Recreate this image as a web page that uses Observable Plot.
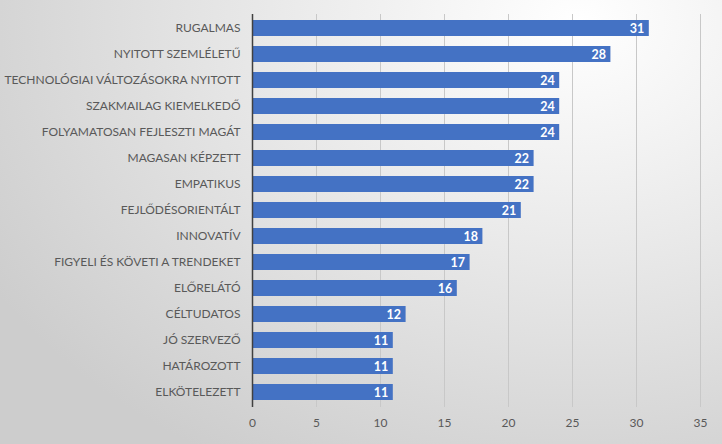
<!DOCTYPE html>
<html>
<head>
<meta charset="utf-8">
<script src="https://cdn.jsdelivr.net/npm/d3@7"></script>
<script src="https://cdn.jsdelivr.net/npm/@observablehq/plot@0.6"></script>
<style>
  html, body { margin: 0; padding: 0; }
  body {
    width: 722px; height: 444px; overflow: hidden;
    background: radial-gradient(ellipse 95% 115% at 80% 5%, #ffffff 0%, #e9e9e9 45%, #cdcdcd 100%);
  }
  #chart svg { background: transparent; display: block; }
</style>
</head>
<body>
<div id="chart"></div>
<script>
const categories = [
  "RUGALMAS",
  "NYITOTT SZEMLÉLETŰ",
  "TECHNOLÓGIAI VÁLTOZÁSOKRA NYITOTT",
  "SZAKMAILAG KIEMELKEDŐ",
  "FOLYAMATOSAN FEJLESZTI MAGÁT",
  "MAGASAN KÉPZETT",
  "EMPATIKUS",
  "FEJLŐDÉSORIENTÁLT",
  "INNOVATÍV",
  "FIGYELI ÉS KÖVETI A TRENDEKET",
  "ELŐRELÁTÓ",
  "CÉLTUDATOS",
  "JÓ SZERVEZŐ",
  "HATÁROZOTT",
  "ELKÖTELEZETT"
];
const values = [31, 28, 24, 24, 24, 22, 22, 21, 18, 17, 16, 12, 11, 11, 11];
const xTicks = [0, 5, 10, 15, 20, 25, 30, 35];

const data = categories.map((c, i) => ({ category: c, value: values[i] }));

const chart = Plot.plot({
  width: 722,
  height: 444,
  marginLeft: 252,
  marginRight: 22,
  marginTop: 14,
  marginBottom: 37,
  style: { fontFamily: "Lato, 'Open Sans', sans-serif", fontSize: "12px", color: "#595959", background: "transparent" },
  x: { domain: [0, 35], ticks: xTicks, tickSize: 0, tickPadding: 11, label: null },
  y: { domain: categories, paddingInner: 0.38, paddingOuter: 0.19, tickSize: 0, tickPadding: 12, label: null },
  marks: [
    Plot.gridX(xTicks.filter(t => t > 0), { stroke: "#c8c8c8", strokeOpacity: 1, strokeWidth: 1 }),
    Plot.barX(data, { x: "value", y: "category", fill: "#4472C4" }),
    Plot.text(data, { x: "value", y: "category", text: d => String(d.value), textAnchor: "end", dx: -5, fill: "white", fontWeight: "bold", fontSize: 12.5 }),
    Plot.ruleX([0], { stroke: "#404040", strokeWidth: 1.5 }),
    Plot.axisX({ ticks: xTicks, tickSize: 0, tickPadding: 11, fill: "#595959" }),
    Plot.axisY({ tickSize: 0, tickPadding: 12, fill: "#595959" })
  ]
});
document.getElementById("chart").appendChild(chart);
</script>
</body>
</html>
